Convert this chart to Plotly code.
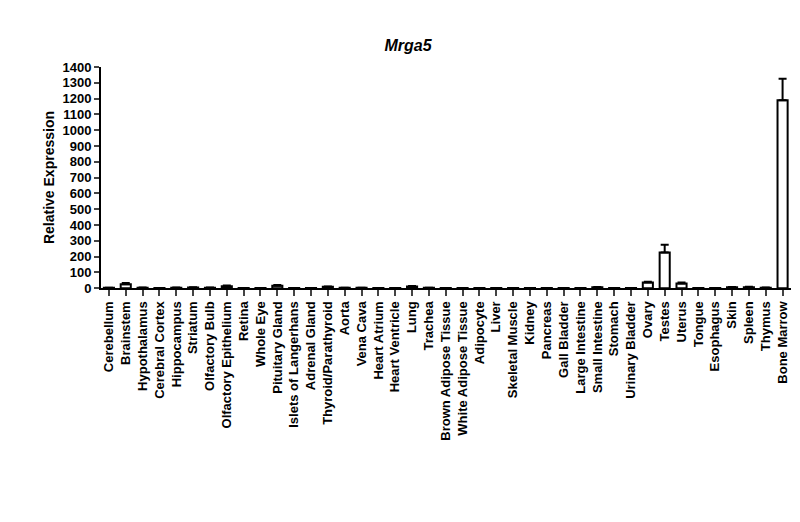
import plotly.graph_objects as go

tissues = ["Cerebellum", "Brainstem", "Hypothalamus", "Cerebral Cortex", "Hippocampus", "Striatum",
           "Olfactory Bulb", "Olfactory Epithelium", "Retina", "Whole Eye", "Pituitary Gland",
           "Islets of Langerhans", "Adrenal Gland", "Thyroid/Parathyroid", "Aorta", "Vena Cava",
           "Heart Atrium", "Heart Ventricle", "Lung", "Trachea", "Brown Adipose Tissue",
           "White Adipose Tissue", "Adipocyte", "Liver", "Skeletal Muscle", "Kidney", "Pancreas",
           "Gall Bladder", "Large Intestine", "Small Intestine", "Stomach", "Urinary Bladder",
           "Ovary", "Testes", "Uterus", "Tongue", "Esophagus", "Skin", "Spleen", "Thymus", "Bone Marrow"]
expression = [2, 25, 3, 1, 3, 4, 3, 12, 1, 1, 15, 1, 1, 8, 2, 2, 1, 1, 10, 2, 1,
              1, 1, 1, 1, 1, 1, 1, 1, 5, 1, 1, 35, 225, 30, 1, 1, 5, 6, 3, 1190]
errors = [1, 8, 1, 0, 1, 1, 1, 4, 0, 0, 5, 0, 0, 3, 1, 1, 0, 0, 3, 1, 0,
          0, 0, 0, 0, 0, 0, 0, 0, 2, 0, 0, 5, 50, 6, 0, 0, 2, 2, 1, 135]

fig = go.Figure(go.Bar(
    x=tissues, y=expression, width=0.6,
    marker=dict(color="white", line=dict(color="black", width=2)),
    error_y=dict(type="data", array=errors, symmetric=False, arrayminus=[0] * len(errors),
                 color="black", thickness=2, width=4),
))
fig.update_layout(
    width=800, height=522, plot_bgcolor="white", paper_bgcolor="white",
    font=dict(family="Liberation Sans, Arial", color="black"),
    title=dict(text="<b><i>Mrga5</i></b>", x=0.5, xanchor="center", y=0.94, font=dict(size=16)),
    margin=dict(l=93, r=17, t=59, b=0),
    showlegend=False,
)
fig.update_yaxes(range=[0, 1400], dtick=100, showline=True, linecolor="black", linewidth=2,
                 ticks="outside", ticklen=5, tickwidth=2, showgrid=False, zeroline=False,
                 tickprefix="<b>", ticksuffix="</b>", tickfont=dict(size=13),
                 title=dict(text="<b>Relative Expression</b>", font=dict(size=14), standoff=5),
                 domain=[0.514, 1])
fig.update_xaxes(showline=True, linecolor="black", linewidth=2, ticks="outside", ticklen=6,
                 tickwidth=2, tickangle=-90, tickprefix="<b>", ticksuffix="</b>",
                 tickfont=dict(size=13), range=[-0.47, 40.5])
fig.write_html("out.html")
